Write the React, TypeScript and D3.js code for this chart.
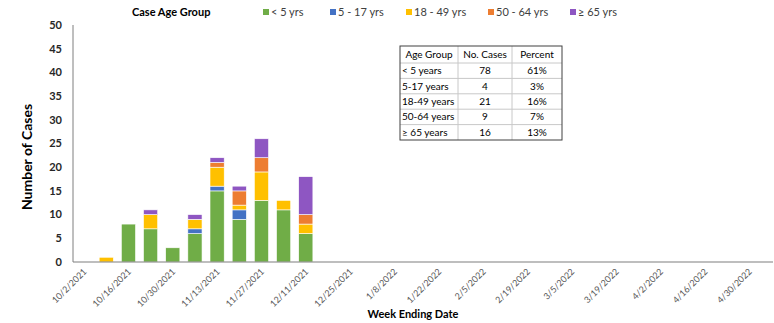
import { useEffect, useRef } from 'react';
import * as d3 from 'd3';

// weekly categories, 10/2/2021 through 5/7/2022
const weeks: string[] = [
  '10/2/2021', '10/9/2021', '10/16/2021', '10/23/2021', '10/30/2021', '11/6/2021',
  '11/13/2021', '11/20/2021', '11/27/2021', '12/4/2021', '12/11/2021', '12/18/2021',
  '12/25/2021', '1/1/2022', '1/8/2022', '1/15/2022', '1/22/2022', '1/29/2022',
  '2/5/2022', '2/12/2022', '2/19/2022', '2/26/2022', '3/5/2022', '3/12/2022',
  '3/19/2022', '3/26/2022', '4/2/2022', '4/9/2022', '4/16/2022', '4/23/2022',
  '4/30/2022', '5/7/2022',
];

// cases for weeks 10/2 .. 12/11 (rest are zero)
const under5 = [0, 0, 8, 7, 3, 6, 15, 9, 13, 11, 6];
const age5to17 = [0, 0, 0, 0, 0, 1, 1, 2, 0, 0, 0];
const age18to49 = [0, 1, 0, 3, 0, 2, 4, 1, 6, 2, 2];
const age50to64 = [0, 0, 0, 0, 0, 0, 1, 3, 3, 0, 2];
const age65plus = [0, 0, 0, 1, 0, 1, 1, 1, 4, 0, 8];

const seriesKeys = ['u5', 'a5', 'a18', 'a50', 'a65'];
const seriesLabels = ['< 5 yrs', '5 - 17 yrs', '18 - 49 yrs', '50 - 64 yrs', '≥ 65 yrs'];
const seriesColors = ['#70AD47', '#4472C4', '#FFC000', '#ED7D31', '#8E56C2'];
const legendX = [263, 330, 406, 488, 570];

const yTicks = [0, 5, 10, 15, 20, 25, 30, 35, 40, 45, 50];

const tableHeader = ['Age Group', 'No. Cases', 'Percent'];
const tableGroups = ['< 5 years', '5-17 years', '18-49 years', '50-64 years', '≥ 65 years'];
const tableCases = ['78', '4', '21', '9', '16'];
const tablePercent = ['61%', '3%', '16%', '7%', '13%'];

const FONT = 'Lato, "Open Sans", sans-serif';

export default function App() {
  const svgRef = useRef<SVGSVGElement>(null);

  useEffect(() => {
    if (!svgRef.current) return;
    const svg = d3.select(svgRef.current);
    svg.selectAll('*').remove();

    const width = 774;
    const height = 323;
    const left = 73;
    const top = 25;
    const bottom = 262;

    svg.attr('width', width).attr('height', height);

    const rows = weeks.map((w, i) => ({
      week: w,
      u5: under5[i] || 0,
      a5: age5to17[i] || 0,
      a18: age18to49[i] || 0,
      a50: age50to64[i] || 0,
      a65: age65plus[i] || 0,
    }));

    const x = d3.scaleBand<string>().domain(weeks).range([left, left + 22.17 * weeks.length]).paddingInner(0.36).paddingOuter(0.18);
    const y = d3.scaleLinear().domain([0, 50]).range([bottom, top]);

    const stack = d3.stack<any>().keys(seriesKeys);
    const layers = stack(rows);

    // bars
    svg
      .append('g')
      .selectAll('g')
      .data(layers)
      .enter()
      .append('g')
      .attr('fill', (_d, i) => seriesColors[i])
      .selectAll('rect')
      .data((d) => d.filter((s) => s[1] - s[0] > 0))
      .enter()
      .append('rect')
      .attr('x', (d: any) => x(d.data.week)!)
      .attr('width', x.bandwidth())
      .attr('y', (d) => y(d[1]))
      .attr('height', (d) => y(d[0]) - y(d[1]))
      .attr('stroke', '#ffffff')
      .attr('stroke-width', 0.6);

    // y axis
    svg
      .append('line')
      .attr('x1', left).attr('x2', left)
      .attr('y1', top).attr('y2', bottom)
      .attr('stroke', '#7f7f7f').attr('stroke-width', 1);

    svg
      .append('g')
      .selectAll('text')
      .data(yTicks)
      .enter()
      .append('text')
      .attr('x', 62)
      .attr('y', (d) => y(d))
      .attr('dy', '0.35em')
      .attr('text-anchor', 'end')
      .attr('font-family', FONT)
      .attr('font-size', 11)
      .attr('font-weight', 'bold')
      .attr('fill', '#262626')
      .text((d) => d);

    // x axis
    svg
      .append('line')
      .attr('x1', left).attr('x2', 773)
      .attr('y1', bottom).attr('y2', bottom)
      .attr('stroke', '#7f7f7f').attr('stroke-width', 1.2);

    const xLabels = weeks.filter((_w, i) => i % 2 === 0 && i < 31);
    svg
      .append('g')
      .selectAll('text')
      .data(xLabels)
      .enter()
      .append('text')
      .attr('transform', (d) => `translate(${x(d)! + x.bandwidth() / 2 + 1},${bottom + 8}) rotate(-45)`)
      .attr('text-anchor', 'end')
      .attr('dy', '0.35em')
      .attr('font-family', FONT)
      .attr('font-size', 9)
      .attr('fill', '#595959')
      .text((d) => d);

    // axis titles
    svg
      .append('text')
      .attr('transform', 'translate(27,157) rotate(-90)')
      .attr('text-anchor', 'middle')
      .attr('dy', '0.35em')
      .attr('font-family', FONT)
      .attr('font-size', 14)
      .attr('font-weight', 'bold')
      .attr('fill', '#000')
      .text('Number of Cases');

    svg
      .append('text')
      .attr('x', 413)
      .attr('y', 314)
      .attr('dy', '0.35em')
      .attr('text-anchor', 'middle')
      .attr('font-family', FONT)
      .attr('font-size', 11)
      .attr('font-weight', 'bold')
      .attr('fill', '#000')
      .text('Week Ending Date');

    // legend
    svg
      .append('text')
      .attr('x', 132)
      .attr('y', 12)
      .attr('dy', '0.35em')
      .attr('font-family', FONT)
      .attr('font-size', 11)
      .attr('font-weight', 'bold')
      .attr('fill', '#000')
      .text('Case Age Group');

    const legend = svg
      .append('g')
      .selectAll('g')
      .data(seriesLabels)
      .enter()
      .append('g')
      .attr('transform', (_d, i) => `translate(${legendX[i]},12)`);
    legend
      .append('rect')
      .attr('x', 0).attr('y', -3)
      .attr('width', 6).attr('height', 6)
      .attr('fill', (_d, i) => seriesColors[i]);
    legend
      .append('text')
      .attr('x', 8)
      .attr('dy', '0.35em')
      .attr('font-family', FONT)
      .attr('font-size', 11)
      .attr('fill', '#404040')
      .text((d) => d);

    // summary table
    const colEdges = [400, 458, 512, 562];
    const rowEdges = [46, 63, 78.4, 93.8, 109.2, 124.6, 140];
    const tbl = svg.append('g');
    rowEdges.slice(1, -1).forEach((ry) => {
      tbl.append('line')
        .attr('x1', colEdges[0]).attr('x2', colEdges[3])
        .attr('y1', ry).attr('y2', ry)
        .attr('stroke', '#c8c8c8').attr('stroke-width', 1);
    });
    colEdges.slice(1, -1).forEach((cx) => {
      tbl.append('line')
        .attr('x1', cx).attr('x2', cx)
        .attr('y1', rowEdges[0]).attr('y2', rowEdges[6])
        .attr('stroke', '#c8c8c8').attr('stroke-width', 1);
    });
    tbl.append('rect')
      .attr('x', colEdges[0]).attr('y', rowEdges[0])
      .attr('width', colEdges[3] - colEdges[0])
      .attr('height', rowEdges[6] - rowEdges[0])
      .attr('fill', 'none').attr('stroke', '#404040').attr('stroke-width', 1);

    const cellText = (txt: string, cx: number, cy: number, anchor: string) =>
      tbl.append('text')
        .attr('x', cx).attr('y', cy)
        .attr('dy', '0.35em')
        .attr('text-anchor', anchor)
        .attr('font-family', FONT)
        .attr('font-size', 10)
        .attr('fill', '#000')
        .text(txt);

    tableHeader.forEach((h, i) => {
      cellText(h, (colEdges[i] + colEdges[i + 1]) / 2, (rowEdges[0] + rowEdges[1]) / 2, 'middle');
    });
    tableGroups.forEach((g, r) => {
      const cy = (rowEdges[r + 1] + rowEdges[r + 2]) / 2;
      cellText(g, colEdges[0] + 2, cy, 'start');
      cellText(tableCases[r], (colEdges[1] + colEdges[2]) / 2, cy, 'middle');
      cellText(tablePercent[r], (colEdges[2] + colEdges[3]) / 2, cy, 'middle');
    });
  }, []);

  return (
    <div style={{ position: 'absolute', left: 0, top: 0, background: '#fff' }}>
      <svg ref={svgRef} style={{ display: 'block' }}></svg>
    </div>
  );
}
